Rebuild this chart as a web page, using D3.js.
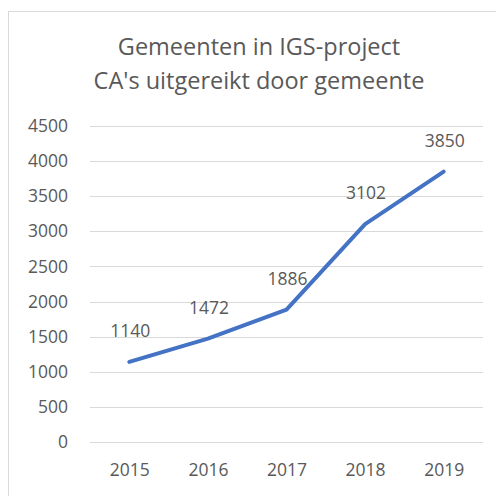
<!DOCTYPE html>
<html>
<head>
<meta charset="utf-8">
<script src="https://cdn.jsdelivr.net/npm/d3@7"></script>
<style>
  body { margin: 0; background: #fff; }
  svg text { font-family: "Open Sans", "Noto Sans", sans-serif; fill: #595959; }
</style>
</head>
<body>
<div id="chart"></div>
<script>
// chart data
var years = ["2015", "2016", "2017", "2018", "2019"];
var values = [1140, 1472, 1886, 3102, 3850];
var yTicks = [0, 500, 1000, 1500, 2000, 2500, 3000, 3500, 4000, 4500];
var titleLines = ["Gemeenten in IGS-project", "CA's uitgereikt door gemeente"];

var width = 496, height = 496;
var margin = {top: 126, right: 13, bottom: 54, left: 90};
var labelSize = "17.5px";

var svg = d3.select("#chart").append("svg")
    .attr("width", width)
    .attr("height", height);

// chart area border
svg.append("rect")
    .attr("x", 8.5).attr("y", 11.5)
    .attr("width", 500).attr("height", 500)
    .style("fill", "none")
    .style("stroke", "#d9d9d9");

var x = d3.scalePoint()
    .domain(years)
    .range([margin.left, width - margin.right])
    .padding(0.5);

var y = d3.scaleLinear()
    .domain([0, 4500])
    .range([height - margin.bottom, margin.top]);

// gridlines
svg.append("g").selectAll("line")
    .data(yTicks)
    .enter().append("line")
    .attr("x1", margin.left)
    .attr("x2", width - margin.right)
    .attr("y1", function(d) { return Math.round(y(d)) + 0.5; })
    .attr("y2", function(d) { return Math.round(y(d)) + 0.5; })
    .style("stroke", "#d9d9d9")
    .style("stroke-width", 1);

// y axis labels
var yAxis = d3.axisLeft(y).tickValues(yTicks).tickFormat(d3.format("d")).tickSize(0).tickPadding(22);
var gy = svg.append("g")
    .attr("transform", "translate(" + margin.left + ",0)")
    .call(yAxis);
gy.select(".domain").remove();
gy.selectAll("text").style("font-size", labelSize).style("fill", "#595959");

// x axis labels
var xAxis = d3.axisBottom(x).tickSize(0).tickPadding(22);
var gx = svg.append("g")
    .attr("transform", "translate(0," + (height - margin.bottom) + ")")
    .call(xAxis);
gx.select(".domain").remove();
gx.selectAll("text").style("font-size", labelSize).style("fill", "#595959");

// line
var line = d3.line()
    .x(function(d, i) { return x(years[i]); })
    .y(function(d) { return y(d); });

svg.append("path")
    .attr("d", line(values))
    .style("fill", "none")
    .style("stroke", "#4472c4")
    .style("stroke-width", 4)
    .style("stroke-linejoin", "round")
    .style("stroke-linecap", "round");

// data labels
svg.append("g").selectAll("text")
    .data(values)
    .enter().append("text")
    .attr("x", function(d, i) { return x(years[i]) + 1; })
    .attr("y", function(d) { return y(d) - 25; })
    .attr("text-anchor", "middle")
    .style("font-size", labelSize)
    .text(function(d) { return d; });

// title
svg.append("g").selectAll("text")
    .data(titleLines)
    .enter().append("text")
    .attr("x", 259)
    .attr("y", function(d, i) { return 55 + i * 34; })
    .attr("text-anchor", "middle")
    .style("font-size", "23.5px")
    .text(function(d) { return d; });
</script>
</body>
</html>
